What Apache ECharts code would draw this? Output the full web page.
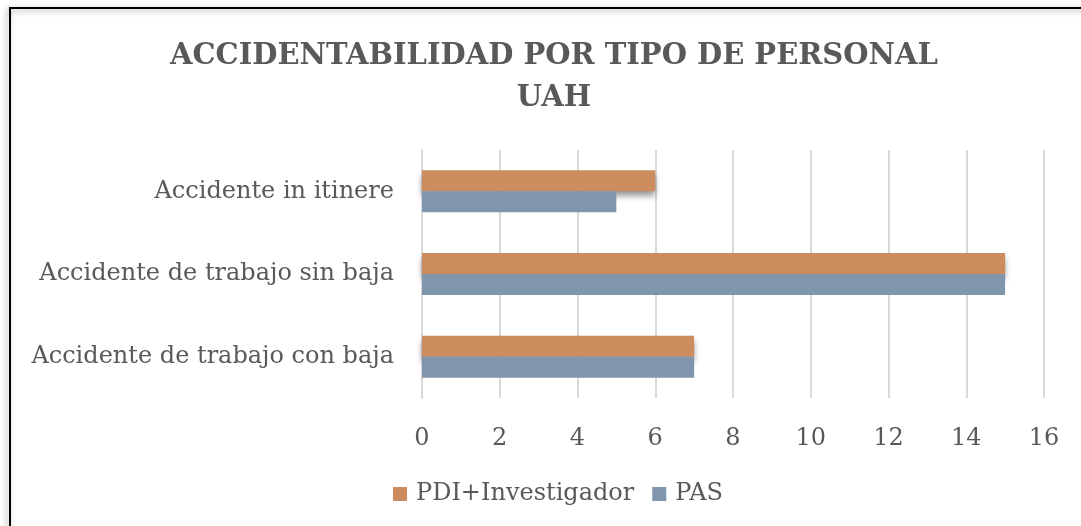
<!DOCTYPE html>
<html>
<head>
<meta charset="utf-8">
<script src="https://cdn.jsdelivr.net/npm/echarts@6/dist/echarts.min.js"></script>
<style>
  html, body { margin: 0; padding: 0; background: #fff; }
  #container { width: 1081px; height: 526px; }
</style>
</head>
<body>
<div id="container"></div>
<script>
/* datos del gráfico */
const categorias = ['Accidente de trabajo con baja', 'Accidente de trabajo sin baja', 'Accidente in itinere'];
const pdi = [7, 15, 6];
const pas = [7, 15, 5];
const ticksX = [0, 2, 4, 6, 8, 10, 12, 14, 16];

const fuente = '"DejaVu Serif", "Liberation Serif", serif';
const gris = '#595959';

const dom = document.getElementById('container');
const myChart = echarts.init(dom);
const option = {
    animation: false,
    textStyle: { fontFamily: fuente },
    title: {
        text: 'ACCIDENTABILIDAD POR TIPO DE PERSONAL\nUAH',
        left: 549,
        top: 30,
        textAlign: 'center',
        textStyle: { fontSize: 29, fontWeight: 'bold', color: gris, lineHeight: 42, fontFamily: fuente }
    },
    // marco del gráfico
    graphic: [{
        type: 'rect',
        shape: { x: 10, y: 8, width: 1100, height: 560 },
        style: { fill: 'none', stroke: '#000', lineWidth: 2, shadowBlur: 6, shadowColor: 'rgba(0,0,0,0.4)', shadowOffsetX: -2, shadowOffsetY: 2 },
        silent: true
    }],
    legend: {
        data: ['PDI+Investigador', 'PAS'],
        left: 388,
        top: 477,
        itemWidth: 14,
        itemHeight: 14,
        itemGap: 18,
        icon: 'rect',
        textStyle: { fontSize: 24, color: gris, fontFamily: fuente, padding: [0, 0, 0, 4] }
    },
    grid: { left: 422, right: 37, top: 150, bottom: 128, containLabel: false },
    xAxis: {
        type: 'value',
        min: 0,
        max: 16,
        interval: 2,
        axisLine: { show: false },
        axisTick: { show: false },
        splitLine: { lineStyle: { color: '#d9d9d9', width: 2 } },
        axisLabel: { fontSize: 24, color: gris, margin: 29, fontFamily: fuente,
            formatter: v => ticksX.includes(v) ? String(v) : '' }
    },
    yAxis: {
        type: 'category',
        data: categorias,
        axisLine: { lineStyle: { color: '#d9d9d9', width: 2 } },
        axisTick: { show: false },
        axisLabel: { fontSize: 24, color: gris, margin: 28, fontFamily: fuente }
    },
    series: [
        {
            name: 'PDI+Investigador', type: 'bar', data: pdi,
            barWidth: 21, barGap: '0%',
            itemStyle: { color: '#cc8c5e', shadowBlur: 6, shadowColor: 'rgba(0,0,0,0.4)', shadowOffsetX: 0, shadowOffsetY: 5 }
        },
        {
            name: 'PAS', type: 'bar', data: pas,
            barWidth: 21, barGap: '0%',
            itemStyle: { color: '#7f96ac' }
        }
    ]
};
myChart.setOption(option, true);
</script>
</body>
</html>
